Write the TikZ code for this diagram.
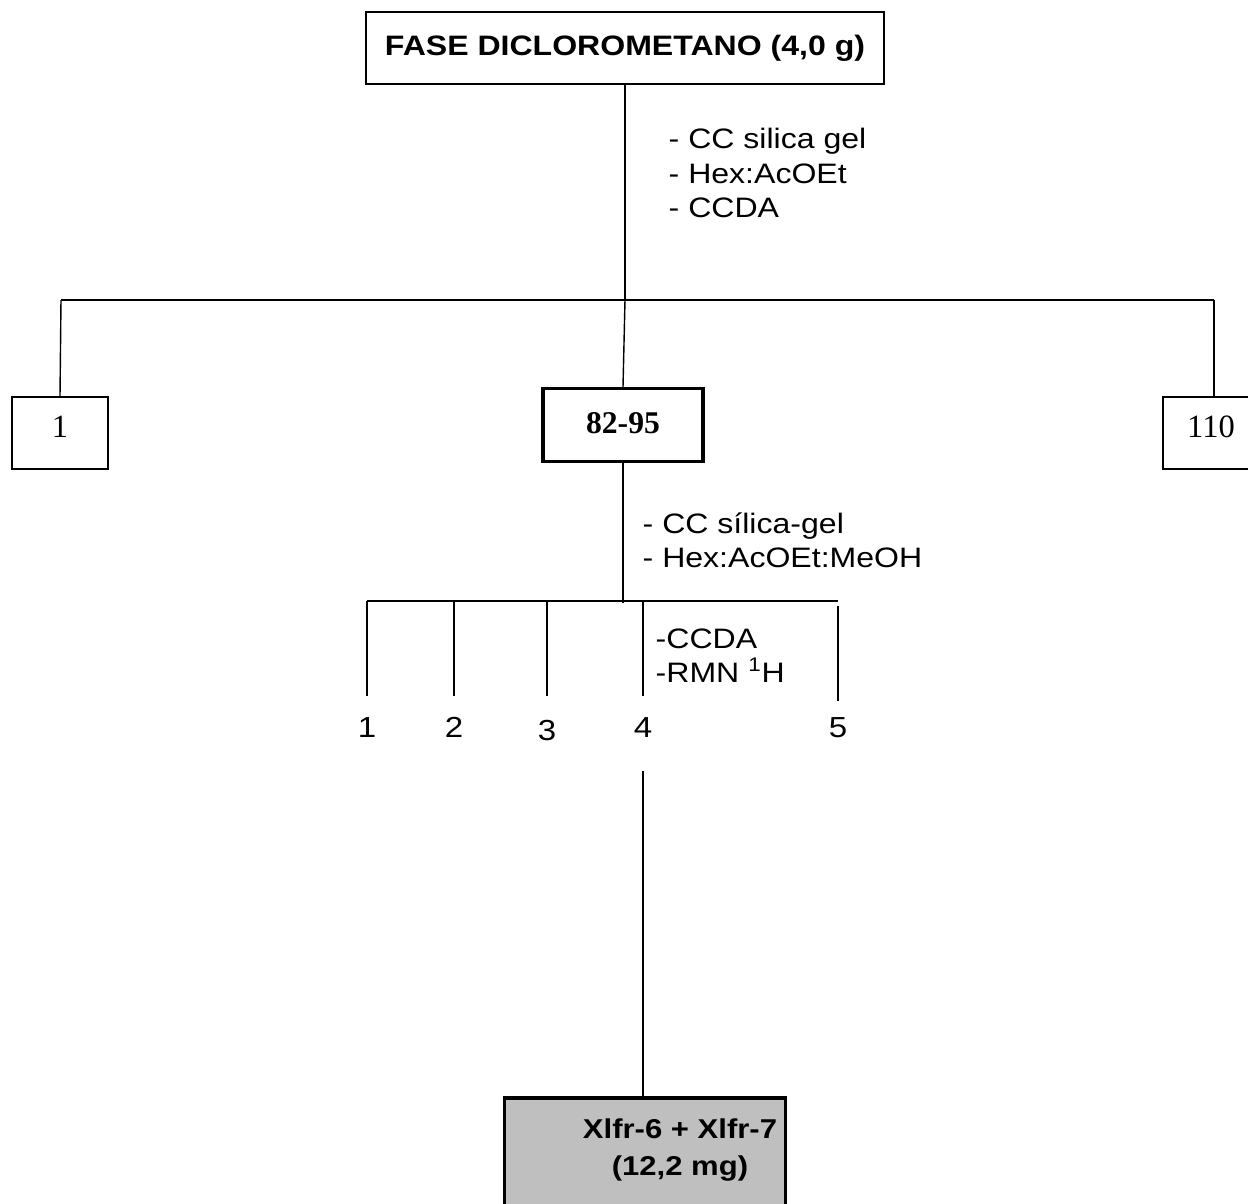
\documentclass[tikz,border=0pt]{standalone}
\usepackage{fontspec}
\setmainfont{Liberation Sans}[FakeStretch=1.14]
\newfontfamily\timesf{Liberation Serif}
\usetikzlibrary{positioning}
\tikzset{
    fracbox/.style={
           rectangle,
           draw=black,
           line width=0.8pt,
           minimum width=1.92cm,
           minimum height=1.44cm,
           inner sep=2pt,
           text depth=7pt,
           font=\timesf\fontsize{18.5}{21}\selectfont,
           },
    note/.style={
           anchor=west,
           align=left,
           inner sep=0pt,
           font=\fontsize{16}{19.5}\selectfont,
           },
    num/.style={
           anchor=base,
           inner sep=3pt,
           font=\fontsize{16.5}{19}\selectfont,
           },
}

\begin{document}
\begin{tikzpicture}[x=0.02cm,y=-0.02cm,line width=0.8pt]
 \useasboundingbox (0,0) rectangle (1248,1204);

 \node[rectangle,draw=black,line width=0.8pt,
 minimum width=10.36cm,minimum height=1.44cm,text depth=3pt,
 font=\bfseries\fontsize{16}{19}\selectfont] (FASE) at (625,48)
 {FASE DICLOROMETANO (4,0 g)};

 \coordinate (BARL) at (61,300);
 \coordinate (BARR) at (1214,300);

 \node[fracbox] (F1) at (60,433) {1};
 \node[fracbox] (F110) at (1211,433) {110};
 \node[fracbox,line width=1.8pt,minimum width=3.2cm,minimum height=1.46cm,
 text depth=2pt,font=\timesf\bfseries\fontsize{18}{21}\selectfont] (F8295) at (623,425) {82-95};

 \node[note] (M1) at (668,173)
 {- CC silica gel\\- Hex:AcOEt\\- CCDA};
 \node[note] (M2) at (642,540)
 {- CC s\'ilica-gel\\- Hex:AcOEt:MeOH};

 \draw (FASE.south) -- (FASE.south |- BARL);
 \draw (BARL) -- (BARR);
 \draw (BARL) -- (F1.north);
 \draw (BARR) -- (BARR |- F110.north);
 \draw (FASE.south |- BARL) -- (F8295.north);

 % sub-fractions
 \coordinate (SUBL) at (367,601);
 \coordinate (SUBR) at (838,601);
 \node[num] (S1) at (367,737) {1};
 \node[num] (S2) at (454,737) {2};
 \node[num] (S3) at (547,740) {3};
 \node[num] (S4) at (643,737) {4};
 \node[num] (S5) at (838,737) {5};

 \draw (F8295.south) -- ([yshift=-0.03cm]F8295.south |- SUBL);
 \draw (SUBL) -- (SUBR);
 \draw (SUBL) -- ([yshift=0.3cm]S1.north);
 \draw (S2 |- SUBL) -- ([yshift=0.3cm]S2.north);
 \draw (S3 |- SUBL) -- ([yshift=0.36cm]S3.north);
 \draw (S4 |- SUBL) -- ([yshift=0.3cm]S4.north);
 \draw ([yshift=-0.1cm]SUBR) -- ([yshift=0.2cm]S5.north);

 \node[note] (M3) at (655,656)
 {-CCDA\\-RMN \textsuperscript{1}H};

 \node[rectangle,draw=black,line width=1.8pt,fill=black!25,
 minimum width=5.62cm,minimum height=2.6cm] (XLFR) at (645,1163) {};
 \node[align=center,inner sep=0pt,
 font=\bfseries\fontsize{15.5}{20.5}\selectfont] (XLFRTXT) at (680,1150)
 {Xlfr-6 + Xlfr-7\\(12,2 mg)};

 \draw ([yshift=-0.56cm]S4.south) -- (S4.south |- XLFR.north);
\end{tikzpicture}
\end{document}
